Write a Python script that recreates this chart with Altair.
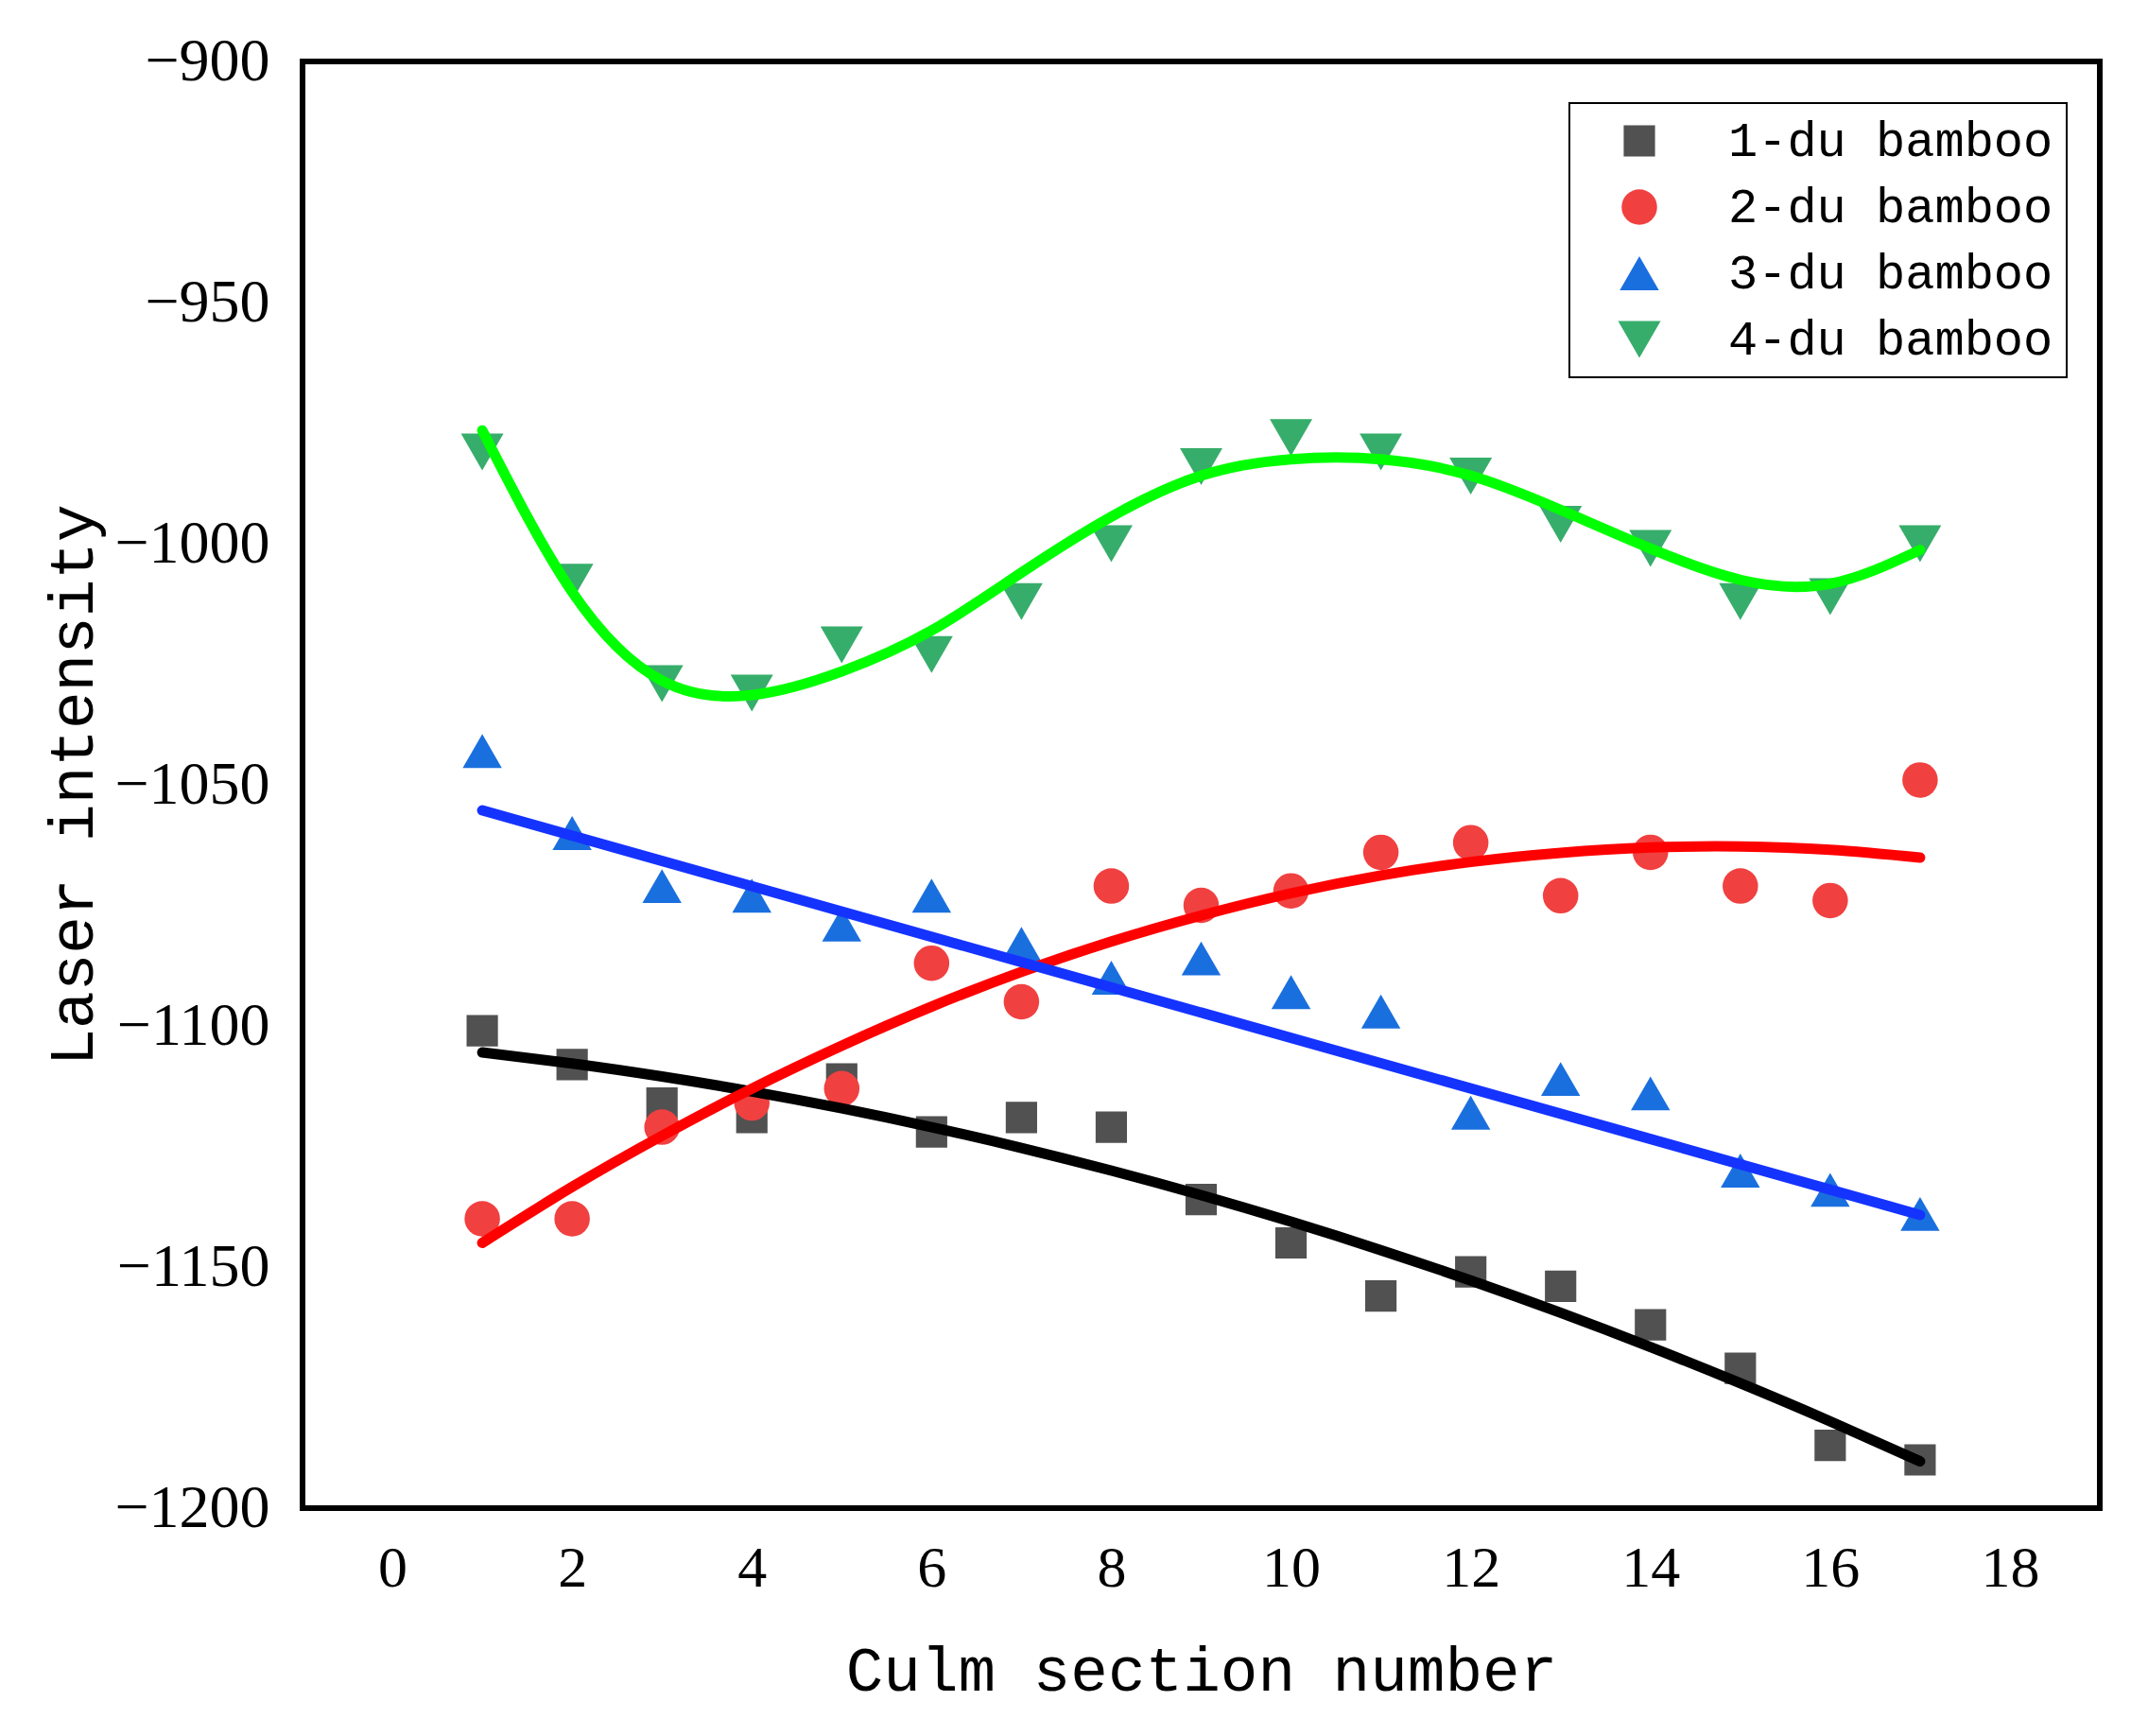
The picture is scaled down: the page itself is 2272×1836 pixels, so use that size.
# Laser intensity vs culm section number, four bamboo ages, scatter + fitted curves
import altair as alt
import pandas as pd

# ------------------------------------------------------------
# data
# ------------------------------------------------------------
sections = list(range(1, 18))
series_names = ["1-du bamboo", "2-du bamboo", "3-du bamboo", "4-du bamboo"]

du1_points = [-1101, -1108, -1116, -1119, -1111, -1122, -1119, -1121, -1136,
              -1145, -1156, -1151, -1154, -1162, -1171, -1187, -1190]
du2_points = [-1140, -1140, -1121, -1116, -1113, -1087, -1095, -1071, -1075,
              -1072, -1064, -1062, -1073, -1064, -1071, -1074, -1049]
du3_points = [-1043, -1060, -1071, -1073, -1079, -1073, -1083, -1090, -1086,
              -1093, -1097, -1118, -1111, -1114, -1130, -1134, -1139]
du4_points = [-981, -1008, -1029, -1031, -1021, -1023, -1012, -1000, -984,
              -978, -981, -986, -996, -1001, -1012, -1011, -1000]

# fitted curves (read at each section)
du1_fit = [-1105.5, -1107.8, -1110.5, -1113.6, -1117.1, -1121.0, -1125.3, -1130.0, -1135.1,
           -1140.6, -1146.5, -1152.8, -1159.5, -1166.6, -1174.1, -1182.0, -1190.3]
du2_fit = [-1145.0, -1133.4, -1122.8, -1113.0, -1104.1, -1096.0, -1088.8, -1082.5, -1077.1,
           -1072.5, -1068.8, -1066.0, -1064.1, -1063.0, -1062.8, -1063.5, -1065.1]
du3_fit_x = [1, 17]
du3_fit = [-1055.3, -1139.2]
du4_fit = [-976.5, -1010.0, -1028.4, -1031.4, -1026.5, -1018.0, -1006.0, -994.4, -985.9,
           -982.5, -982.5, -985.9, -993.0, -1001.0, -1007.5, -1008.3, -1001.3]

x_ticks = list(range(0, 19, 2))
y_ticks = list(range(-1200, -899, 50))

marker_colors = ["#515151", "#F14040", "#1A6FDF", "#37AD6B"]
line_colors = ["#000000", "#FF0000", "#1533FF", "#00FF00"]
marker_shapes = ["square", "circle", "triangle-up", "triangle-down"]
marker_size_range = [1100, 2025]  # point scale: square -> down-triangle

# ------------------------------------------------------------
# long tables
# ------------------------------------------------------------
pts = pd.DataFrame({
    "section": sections * 4,
    "intensity": du1_points + du2_points + du3_points + du4_points,
    "series": [s for s in series_names for _ in sections],
})

fit = pd.DataFrame({
    "section": sections + sections + du3_fit_x + sections,
    "intensity": du1_fit + du2_fit + du3_fit + du4_fit,
    "series": [series_names[0]] * 17 + [series_names[1]] * 17
              + [series_names[2]] * 2 + [series_names[3]] * 17,
})

x_scale = alt.Scale(domain=[-1, 19], nice=False, zero=False)
y_scale = alt.Scale(domain=[-1200, -900], nice=False, zero=False)

x_axis = alt.Axis(
    values=x_ticks, format="d", ticks=False, tickSize=0, domain=False, grid=False,
    labelFont="Liberation Serif", labelFontSize=62, labelPadding=33, labelColor="black",
    title="Culm section number", titleFont="Liberation Mono", titleFontSize=66,
    titleFontWeight="normal", titleColor="black", titleBaseline="alphabetic", titleY=192,
)
y_axis = alt.Axis(
    values=y_ticks, format="d", ticks=False, tickSize=0, domain=False, grid=False,
    labelFont="Liberation Serif", labelFontSize=64, labelPadding=35, labelColor="black",
    title="Laser intensity", titleFont="Liberation Mono", titleFontSize=66,
    titleFontWeight="normal", titleColor="black", titleAngle=270,
    titleBaseline="alphabetic", titleAlign="center", titleX=-223, titleY=765,
)

legend = alt.Legend(
    title=None, orient="none", legendX=1340, legendY=44, padding=14,
    strokeColor="black", fillColor="white",
    labelFont="Liberation Mono", labelFontSize=52, labelColor="black", labelLimit=800,
    symbolOffset=34, labelOffset=68, rowPadding=18, symbolOpacity=1, symbolStrokeWidth=0,
)

points = alt.Chart(pts).mark_point(filled=True, opacity=1, strokeWidth=0).encode(
    x=alt.X("section:Q", scale=x_scale, axis=x_axis),
    y=alt.Y("intensity:Q", scale=y_scale, axis=y_axis),
    color=alt.Color("series:N", scale=alt.Scale(domain=series_names, range=marker_colors),
                    legend=legend),
    shape=alt.Shape("series:N", scale=alt.Scale(domain=series_names, range=marker_shapes),
                    legend=legend),
    size=alt.Size("series:N", scale=alt.Scale(domain=series_names, range=marker_size_range),
                  legend=legend),
)

# fitted curves use the stroke channel so the marker colour scale stays on its own
lines = alt.Chart(fit).mark_line(strokeWidth=11, strokeCap="round", interpolate="natural").encode(
    x=alt.X("section:Q", scale=x_scale),
    y=alt.Y("intensity:Q", scale=y_scale),
    stroke=alt.Stroke("series:N", scale=alt.Scale(domain=series_names, range=line_colors),
                      legend=None),
)

chart = (
    alt.layer(points, lines)
    .properties(
        width=1901, height=1530,
        autosize=alt.AutoSizeParams(type="none"),
        padding={"left": 312, "top": 57, "right": 40, "bottom": 235},
        background="white",
    )
    .configure_view(stroke="black", strokeWidth=6, fill="white")
    .configure_legend(strokeWidth=2)
)

chart.save("out.html", embed_options={"renderer": "svg", "actions": False})
